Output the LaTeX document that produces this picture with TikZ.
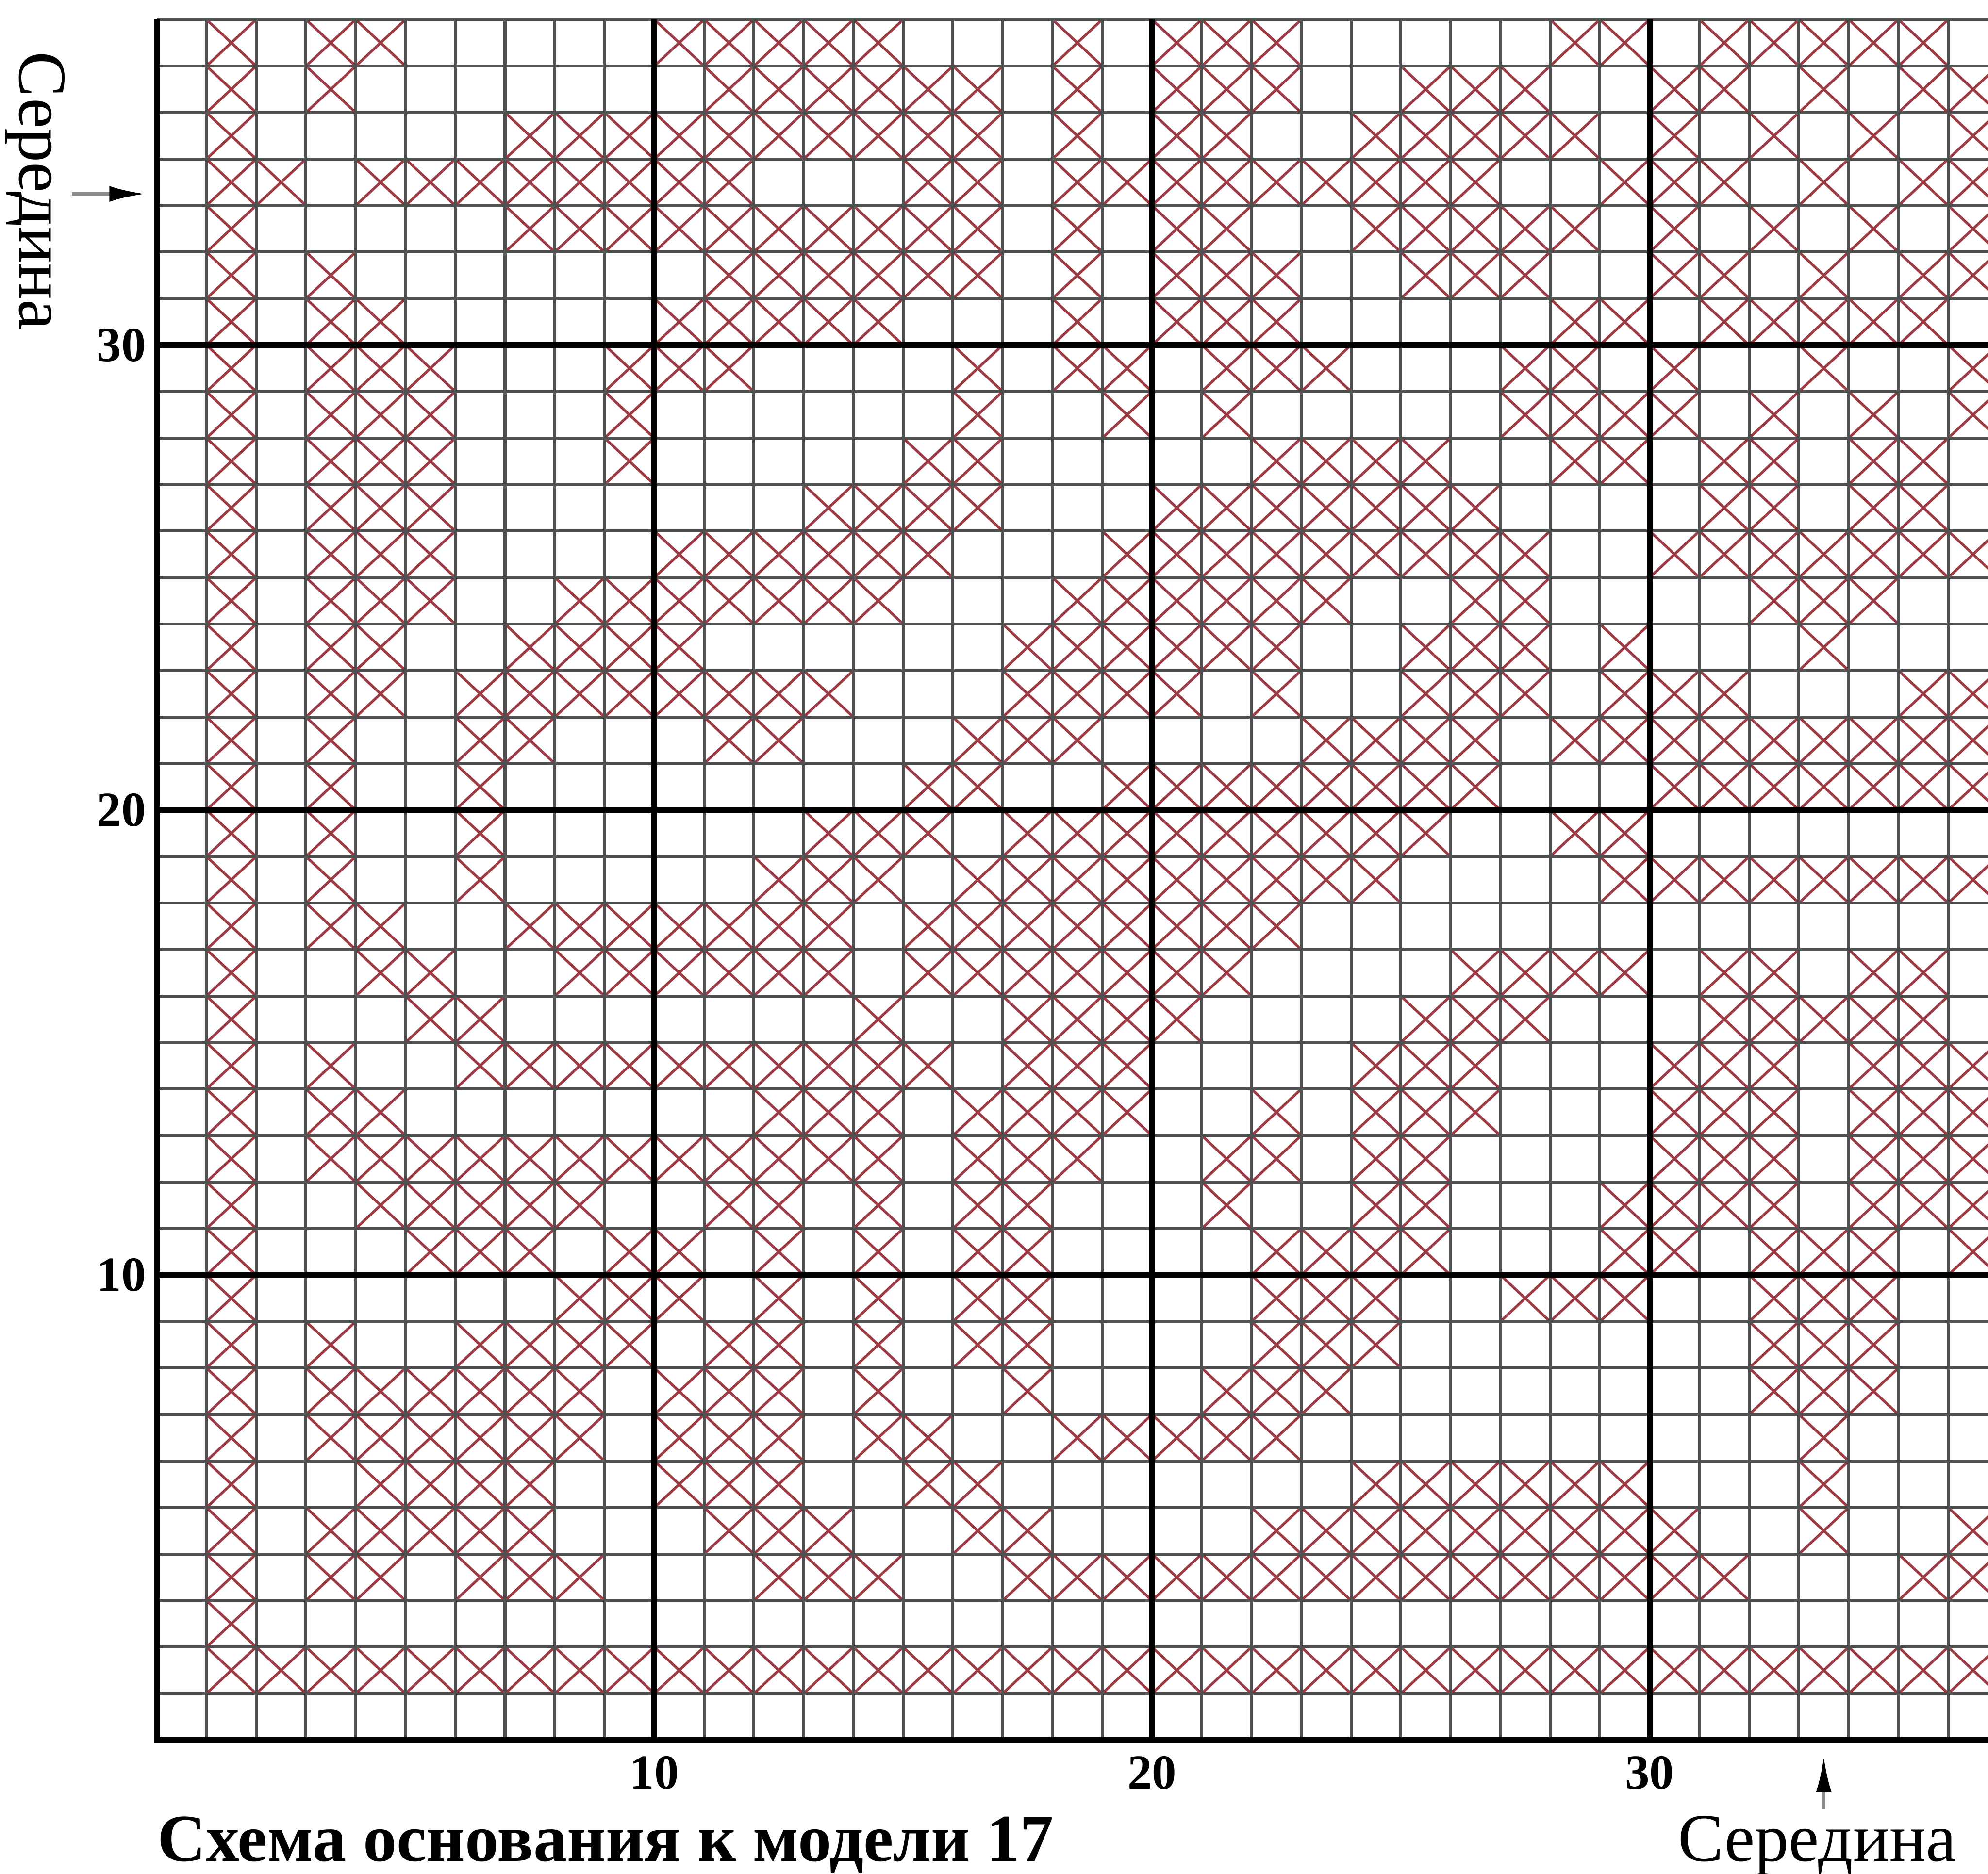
\documentclass[tikz,border=0pt]{standalone}
\usepackage{fontspec}
\setmainfont{Liberation Serif}
\usetikzlibrary{arrows.meta}
\definecolor{stitchred}{RGB}{158,58,68}
\definecolor{gridgray}{RGB}{80,80,80}

\begin{document}
\begin{tikzpicture}[x=0.5cm, y=0.4673cm,
    stitch/.style={draw=stitchred, line width=0.75pt},
    gridline/.style={draw=gridgray, line width=0.85pt},
    majorline/.style={draw=black, line width=1.7pt},
    axislabel/.style={font=\fontsize{14}{16}\selectfont\bfseries, inner sep=0pt},
    midlabel/.style={font=\fontsize{19.5}{22}\selectfont, inner sep=0pt},
    titlelabel/.style={font=\fontsize{19.2}{22}\selectfont\bfseries, inner sep=0pt},
    midarr/.style={draw=black!45, line width=1pt,
                   -{Latex[length=3.6mm, width=1.6mm, color=black]}}
  ]
  \useasboundingbox (-3.148,-2.880) rectangle (36.80,37.42);

  % Stitches (row / filled columns)
  \foreach \r/\cols in {
      37/{2,4,5,11,12,13,14,15,19,21,22,23,29,30,32,33,34,35,36},
      36/{2,4,12,13,14,15,16,17,19,21,22,23,26,27,28,31,32,34,36,37},
      35/{2,8,9,10,11,12,13,14,15,16,17,19,21,22,25,26,27,28,29,31,33,35,37},
      34/{2,3,5,6,7,8,9,10,11,12,16,17,19,20,21,22,23,24,25,26,27,30,31,32,34,36,37},
      33/{2,8,9,10,11,12,13,14,15,16,17,19,21,22,25,26,27,28,29,31,33,35,37},
      32/{2,4,12,13,14,15,16,17,19,21,22,23,26,27,28,31,32,34,36,37},
      31/{2,4,5,11,12,13,14,15,19,21,22,23,29,30,32,33,34,35,36},
      30/{2,4,5,6,10,11,12,17,19,20,22,23,24,28,29,31,34,37},
      29/{2,4,5,6,10,17,20,22,28,29,30,31,33,35,37},
      28/{2,4,5,6,10,16,17,23,24,25,26,29,30,32,33,35,36},
      27/{2,4,5,6,14,15,16,17,21,22,23,24,25,26,27,32,33,35,36},
      26/{2,4,5,6,11,12,13,14,15,16,20,21,22,23,24,25,26,27,28,31,32,33,34,35,36,37},
      25/{2,4,5,6,9,10,11,12,13,14,15,19,20,21,22,23,24,27,28,33,34,35},
      24/{2,4,5,8,9,10,11,18,19,20,21,22,23,26,27,28,30,34},
      23/{2,4,5,7,8,9,10,11,12,13,14,18,19,20,21,23,26,27,28,30,31,32,36,37},
      22/{2,4,7,8,12,13,17,18,19,24,25,26,27,29,30,31,32,33,34,35,36,37},
      21/{2,4,7,16,17,20,21,22,23,24,25,26,27,31,32,33,34,35,36,37},
      20/{2,4,7,14,15,16,18,19,20,21,22,23,24,25,26,29,30},
      19/{2,4,7,13,14,15,17,18,19,20,21,22,23,24,25,30,31,32,33,34,35,36,37},
      18/{2,4,5,8,9,10,11,12,13,14,16,17,18,19,20,21,22,23},
      17/{2,5,6,9,10,11,12,13,14,16,17,18,19,20,21,22,27,28,29,30,32,33,35,36},
      16/{2,6,7,15,18,19,20,21,26,27,28,32,33,34,35,36},
      15/{2,4,7,8,9,10,11,12,13,14,15,16,18,19,20,25,26,27,31,32,33,35,36,37},
      14/{2,4,5,13,14,15,17,18,19,20,23,25,26,27,31,32,33,35,36,37},
      13/{2,4,5,6,7,8,9,10,11,12,13,14,15,17,18,19,22,23,25,26,31,32,33,35,36,37},
      12/{2,5,6,7,8,9,12,13,15,17,18,22,25,26,30,31,32,33,35,36,37},
      11/{2,6,7,8,10,11,13,15,17,18,23,24,25,26,30,31,33,34,35,37},
      10/{2,9,10,11,13,15,17,18,23,24,25,28,29,30,33,34,35},
      9/{2,4,7,8,9,10,12,13,15,17,18,23,24,25,33,34,35},
      8/{2,4,5,6,7,8,9,11,12,13,15,18,22,23,24,33,34,35},
      7/{2,4,5,6,7,8,9,11,12,13,15,16,19,20,21,22,23,34},
      6/{2,5,6,7,8,11,12,13,16,17,25,26,27,28,29,30,34},
      5/{2,4,5,6,7,8,12,13,14,17,18,23,24,25,26,27,28,29,30,31,34,37},
      4/{2,4,5,7,8,9,13,14,15,18,19,20,21,22,23,24,25,26,27,28,29,30,31,32,36,37},
      3/{2},
      2/{2,...,37}}{
    \foreach \c in \cols
      \draw[stitch] (\c-1,\r-1) -- (\c,\r) (\c-1,\r) -- (\c,\r-1);
  }

  % Grid
  \foreach \i in {1,...,37}
    \draw[gridline] (0,\i) -- (37,\i);
  \foreach \i in {1,...,36}
    \draw[gridline] (\i,0) -- (\i,37);
  \foreach \i in {10,20,30} {
    \draw[majorline] (\i,0) -- (\i,37);
    \draw[majorline] (0,\i) -- (37,\i);
  }
  \draw[majorline] (37,0) -- (0,0) -- (0,37);

  % Scale labels
  \foreach \i in {10,20,30} {
    \node[axislabel, anchor=east] (row\i) at (-0.2,\i) {\i};
    \node[axislabel] (col\i) at (\i,-0.70) {\i};
  }

  % Middle markers
  \node[midlabel, rotate=-90, anchor=base west] (midleft) at (-2.75,36.32) {Середина};
  \node[midlabel, anchor=base west] (midbottom) at (30.56,-2.60) {Середина};
  \coordinate (rowtip) at (-0.23,33.25);
  \coordinate (coltip) at (33.5,-0.354);
  \draw[midarr, shorten <=0.6mm] (rowtip -| midleft.north) -- (rowtip);
  \draw[midarr, shorten <=0.6mm] (coltip |- midbottom.north) -- (coltip);

  % Title
  \node[titlelabel, anchor=base west] (title) at (0,-2.60) {Схема основания к модели 17};
\end{tikzpicture}
\end{document}
